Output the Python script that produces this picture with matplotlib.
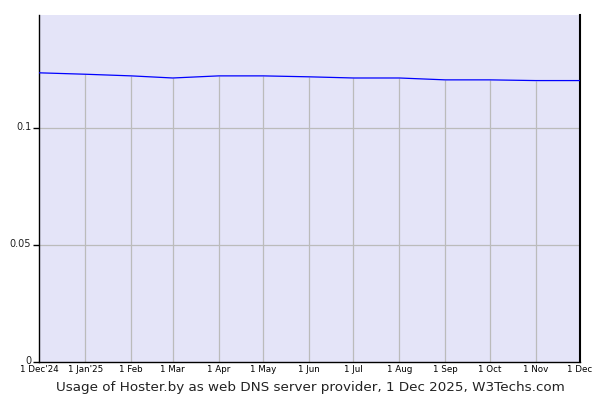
import matplotlib
matplotlib.use("Agg")
import matplotlib.pyplot as plt
import matplotlib.transforms as mtransforms
from datetime import date

dates = [date(2024, 12, 1), date(2025, 1, 1), date(2025, 2, 1), date(2025, 3, 1),
         date(2025, 4, 1), date(2025, 5, 1), date(2025, 6, 1), date(2025, 7, 1),
         date(2025, 8, 1), date(2025, 9, 1), date(2025, 10, 1), date(2025, 11, 1),
         date(2025, 12, 1)]
values = [0.1234, 0.1228, 0.1221, 0.1212, 0.1221, 0.1221, 0.1217, 0.1212,
          0.1212, 0.1204, 0.1204, 0.1201, 0.1201]
tick_labels = ["1 Dec'24", "1 Jan'25", "1 Feb", "1 Mar", "1 Apr", "1 May", "1 Jun",
               "1 Jul", "1 Aug", "1 Sep", "1 Oct", "1 Nov", "1 Dec"]
y_ticks = [0, 0.05, 0.1]
y_tick_labels = ["0", "0.05", "0.1"]
title = "Usage of Hoster.by as web DNS server provider, 1 Dec 2025, W3Techs.com"

fig = plt.figure(figsize=(6, 4), dpi=100)
ax = fig.add_axes([39.5 / 600, 38 / 400, (580 - 39.5) / 600, (362 - 15) / 400])
ax.set_facecolor("#E4E4F8")

# horizontal grid lines across, vertical drop lines up to the series
for yv in y_ticks[1:]:
    ax.axhline(yv, color="#BBBBBB", linewidth=0.9, zorder=1)
ax.vlines(dates[1:-1], 0, values[1:-1], color="#BBBBBB", linewidth=0.9, zorder=1)

ax.plot(dates, values, color="#0000FF", linewidth=0.9, zorder=3)
ax.set_xlim(dates[0], dates[-1])
ax.set_ylim(0, max(values) * 1.2)

ax.set_xticks(dates)
ax.set_xticklabels(tick_labels, fontsize=6.3, color="black")
ax.set_yticks(y_ticks)
ax.set_yticklabels(y_tick_labels, fontsize=7, color="#222222")
ax.tick_params(axis="x", length=0, pad=2)
ax.tick_params(axis="y", length=4, width=1, color="black", pad=2)
offset = mtransforms.ScaledTranslation(0, 2 / 100, fig.dpi_scale_trans)
for lab in ax.get_yticklabels():
    lab.set_transform(lab.get_transform() + offset)

ax.spines["top"].set_visible(False)
for s in ["left", "right", "bottom"]:
    ax.spines[s].set_color("black")
    ax.spines[s].set_linewidth(1)
ax.spines["right"].set_linewidth(1.5)

fig.text(310 / 600, 1 - 387 / 400, title, ha="center", va="center", fontsize=9.7, color="#222222")

fig.savefig("out.png", dpi=100)
